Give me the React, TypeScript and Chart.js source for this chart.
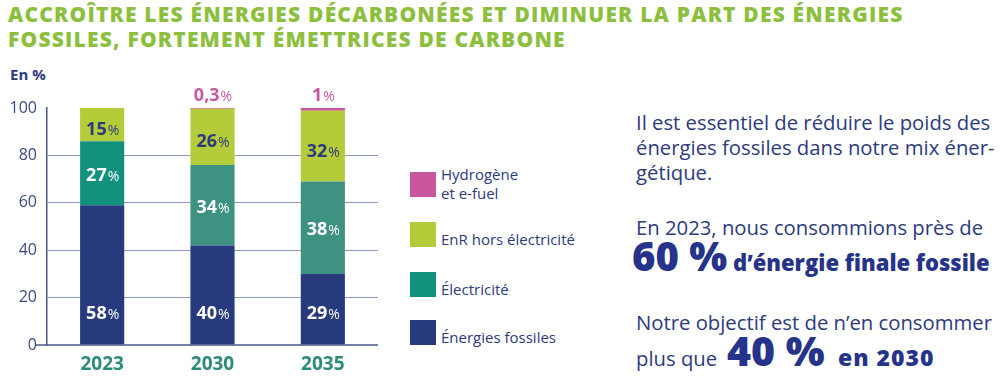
import React, { useEffect, useRef } from "react";
import { Chart, registerables } from "chart.js";

Chart.register(...registerables);

const categories = ["2023", "2030", "2035"];
const fossilValues = [59, 42, 30];
const electricityValues = [27, 34, 39];
const enrValues = [14, 23.7, 29.8];
const hydrogenValues = [0, 0.3, 1.2];

const fossilLabels = ["58", "40", "29"];
const electricityLabels = ["27", "34", "38"];
const enrLabels = ["15", "26", "32"];
const hydrogenLabels = ["", "0,3", "1"];

const yTicks = [0, 20, 40, 60, 80, 100];

const NAVY = "#283a7e";
const TEAL_2023 = "#13917f";
const TEAL = "#3e9282";
const LIME = "#b4cc3a";
const PINK = "#c8579d";
const TEXT_NAVY = "#2c3a7e";
const BOLD_NAVY = "#26338a";
const GREEN_TITLE = "#8dbf3f";
const FONT = "'Open Sans', sans-serif";

const labelPlugin = {
  id: "segLabels",
  afterDatasetsDraw(chart: any) {
    const ctx = chart.ctx;
    const y = chart.scales.y;
    const drawLabel = (num: string, x: number, cy: number, color: string, numSize: number, pctSize: number) => {
      if (!num) return;
      ctx.save();
      ctx.fillStyle = color;
      ctx.textBaseline = "alphabetic";
      ctx.font = `bold ${numSize}px ${FONT}`;
      const w1 = ctx.measureText(num).width;
      ctx.font = `${pctSize}px ${FONT}`;
      const w2 = ctx.measureText("%").width;
      const start = x - (w1 + w2) / 2;
      const base = cy + numSize * 0.36;
      ctx.font = `bold ${numSize}px ${FONT}`;
      ctx.textAlign = "left";
      ctx.fillText(num, start, base);
      ctx.font = `${pctSize}px ${FONT}`;
      ctx.fillText("%", start + w1 + 1, base);
      ctx.restore();
    };
    const metaF = chart.getDatasetMeta(0);
    const metaE = chart.getDatasetMeta(1);
    const metaR = chart.getDatasetMeta(2);
    const metaH = chart.getDatasetMeta(3);
    categories.forEach((_, i) => {
      const xF = metaF.data[i].x;
      drawLabel(fossilLabels[i], xF, y.getPixelForValue(13.5), "#ffffff", 18, 14);
      const e = metaE.data[i];
      drawLabel(electricityLabels[i], e.x, (e.y + e.base) / 2 + 1, "#ffffff", 18, 14);
      const r = metaR.data[i];
      drawLabel(enrLabels[i], r.x, (r.y + r.base) / 2 + 4, TEXT_NAVY, 18, 14);
      const h = metaH.data[i];
      drawLabel(hydrogenLabels[i], h.x, y.getPixelForValue(100) - 13, PINK, 18, 14);
    });
  },
};

const baselinePlugin = {
  id: "baseline",
  afterDatasetsDraw(chart: any) {
    const ctx = chart.ctx;
    const y0 = chart.scales.y.getPixelForValue(0);
    ctx.save();
    ctx.strokeStyle = "#4b5688";
    ctx.lineWidth = 1.5;
    ctx.beginPath();
    ctx.moveTo(36, y0);
    ctx.lineTo(chart.chartArea.right, y0);
    ctx.stroke();
    ctx.restore();
  },
};

function BarChart() {
  const ref = useRef<HTMLCanvasElement>(null);
  useEffect(() => {
    if (!ref.current) return;
    const chart = new Chart(ref.current, {
      type: "bar",
      data: {
        labels: categories,
        datasets: [
          { label: "Énergies fossiles", data: fossilValues, backgroundColor: NAVY },
          { label: "Électricité", data: electricityValues, backgroundColor: [TEAL_2023, TEAL, TEAL] },
          { label: "EnR hors électricité", data: enrValues, backgroundColor: LIME },
          { label: "Hydrogène et e-fuel", data: hydrogenValues, backgroundColor: PINK },
        ],
      },
      options: {
        animation: false,
        responsive: false,
        maintainAspectRatio: false,
        layout: { padding: { top: 108, right: 22, left: 0, bottom: 0 } },
        datasets: { bar: { categoryPercentage: 1, barPercentage: 0.4 } },
        plugins: { legend: { display: false }, tooltip: { enabled: false } },
        scales: {
          x: {
            stacked: true,
            grid: { display: false, drawTicks: false },
            border: { display: false },
            ticks: {
              color: "#2c8c79",
              font: { family: FONT, size: 19, weight: "bold" },
              padding: 8,
            },
            afterFit(scale: any) {
              scale.height = 45;
            },
          },
          y: {
            stacked: true,
            min: 0,
            max: 100,
            afterBuildTicks(scale: any) {
              scale.ticks = yTicks.map((v) => ({ value: v }));
            },
            grid: {
              drawTicks: false,
              color: (c: any) => (c.tick && (c.tick.value === 100 || c.tick.value === 0) ? "rgba(0,0,0,0)" : "#8f99bf"),
              lineWidth: 1,
            },
            border: { display: true, color: "#4b5688", width: 1.5 },
            ticks: {
              color: "#3a4a85",
              font: { family: FONT, size: 16 },
              padding: 10,
            },
            afterFit(scale: any) {
              scale.width = 47;
            },
          },
        },
      },
      plugins: [labelPlugin, baselinePlugin],
    } as any);
    return () => chart.destroy();
  }, []);
  return <canvas ref={ref} width={400} height={390} style={{ position: "absolute", left: 0, top: 0, width: 400, height: 390 }} />;
}

const legendItems = [
  { color: PINK, lines: ["Hydrogène", "et e-fuel"], top: 172 },
  { color: LIME, lines: ["EnR hors électricité"], top: 222 },
  { color: TEAL_2023, lines: ["Électricité"], top: 272 },
  { color: NAVY, lines: ["Énergies fossiles"], top: 320 },
];

function T(props: { x: number; base: number; size: number; weight?: number; color?: string; ls?: number; children: React.ReactNode }) {
  const { x, base, size, weight = 400, color = TEXT_NAVY, ls = 0 } = props;
  return (
    <div
      style={{
        position: "absolute",
        left: x,
        top: base - 1.069 * size,
        fontSize: size,
        lineHeight: `${1.362 * size}px`,
        fontWeight: weight,
        color,
        letterSpacing: ls,
        whiteSpace: "nowrap",
      }}
    >
      {props.children}
    </div>
  );
}

export default function App() {
  useEffect(() => {
    document.body.style.margin = "0";
  }, []);
  return (
    <div style={{ position: "relative", width: 1002, height: 390, background: "#fff", overflow: "hidden", fontFamily: FONT }}>
      <T x={8} base={22} size={21} weight={800} color={GREEN_TITLE} ls={1.2}>
        ACCROÎTRE LES ÉNERGIES DÉCARBONÉES ET DIMINUER LA PART DES ÉNERGIES
      </T>
      <T x={8} base={47} size={21} weight={800} color={GREEN_TITLE} ls={1.2}>
        FOSSILES, FORTEMENT ÉMETTRICES DE CARBONE
      </T>
      <T x={10} base={80} size={15} weight={700}>
        En %
      </T>
      <BarChart />
      {legendItems.map((it, i) => (
        <div key={i} style={{ position: "absolute", left: 410, top: it.top }}>
          <div style={{ position: "absolute", left: 0, top: 0, width: 26, height: 25, background: it.color }} />
          <div style={{ position: "absolute", left: 31, top: it.lines.length > 1 ? -7 : 8, color: TEXT_NAVY, fontSize: 15, lineHeight: "19px", whiteSpace: "nowrap" }}>
            {it.lines.map((l, j) => (
              <div key={j}>{l}</div>
            ))}
          </div>
        </div>
      ))}
      <T x={636} base={131} size={20.3}>Il est essentiel de réduire le poids des</T>
      <T x={636} base={156} size={20.3}>énergies fossiles dans notre mix éner-</T>
      <T x={636} base={181} size={20.3}>gétique.</T>
      <T x={636} base={236} size={20.3}>En 2023, nous consommions près de</T>
      <T x={632} base={272} size={40} weight={800} color={BOLD_NAVY}>60 %</T>
      <T x={733} base={272} size={22} weight={800} color={BOLD_NAVY}>d’énergie finale fossile</T>
      <T x={636} base={331} size={20.3}>Notre objectif est de n’en consommer</T>
      <T x={636} base={367} size={20.3}>plus que</T>
      <T x={727} base={367} size={41} weight={800} color={BOLD_NAVY}>40 %</T>
      <T x={838} base={367} size={23} weight={800} color={BOLD_NAVY} ls={1}>en 2030</T>
    </div>
  );
}
